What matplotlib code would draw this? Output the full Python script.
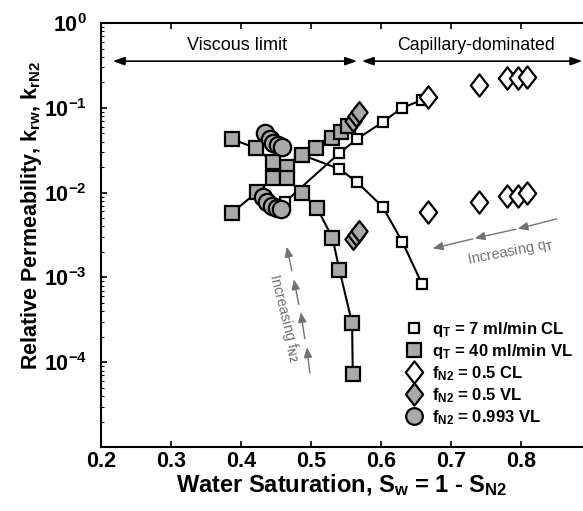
import numpy as np
import matplotlib
matplotlib.use('Agg')
import matplotlib.pyplot as plt
from matplotlib.path import Path
from matplotlib.lines import Line2D
from matplotlib.ticker import FuncFormatter, LogLocator, NullFormatter

plt.rcParams['font.family'] = 'Liberation Sans'
plt.rcParams['font.weight'] = 'bold'
plt.rcParams['mathtext.fontset'] = 'custom'
plt.rcParams['mathtext.rm'] = 'Liberation Sans:bold'
plt.rcParams['mathtext.it'] = 'Liberation Sans:bold'
plt.rcParams['mathtext.bf'] = 'Liberation Sans:bold'
plt.rcParams['mathtext.default'] = 'rm'

# q_T = 7 ml/min, capillary limit (white squares)
sw_cl_w = [0.463, 0.541, 0.566, 0.603, 0.630, 0.659]
kr_cl_w = [0.00774, 0.0293, 0.0429, 0.068, 0.0995, 0.1236]
sw_cl_n = [0.484, 0.541, 0.566, 0.603, 0.631, 0.659]
kr_cl_n = [0.0285, 0.019, 0.0133, 0.00676, 0.00261, 0.000836]

# q_T = 40 ml/min, viscous limit (gray squares)
sw_vl_a = [0.387, 0.423, 0.446, 0.466, 0.487, 0.507, 0.531, 0.543, 0.553]
kr_vl_a = [0.00574, 0.01016, 0.01486, 0.02004, 0.0277, 0.0336, 0.0441, 0.0518, 0.061]
sw_vl_b = [0.387, 0.421, 0.446, 0.466, 0.487, 0.509, 0.531, 0.541, 0.559, 0.560]
kr_vl_b = [0.0429, 0.0336, 0.0230, 0.01486, 0.00989, 0.00658, 0.00292, 0.00122, 0.00029, 7.26e-5]

# f_N2 = 0.5 CL (white diamonds)
sw_f05_cl = [0.667, 0.740, 0.780, 0.796, 0.809]
kr_f05_cl_n = [0.134, 0.186, 0.2246, 0.2246, 0.231]
kr_f05_cl_w = [0.0059, 0.00774, 0.00912, 0.00912, 0.00989]

# f_N2 = 0.5 VL (gray diamonds)
sw_f05_vl = [0.560, 0.564, 0.569]
kr_f05_vl_n = [0.0699, 0.080, 0.0892]
kr_f05_vl_w = [0.00284, 0.00316, 0.00352]

# f_N2 = 0.993 VL (gray circles)
sw_f993 = [0.434, 0.441, 0.446, 0.453, 0.459]
kr_f993_n = [0.0504, 0.0429, 0.0385, 0.0364, 0.0345]
sw_f993_w = [0.431, 0.438, 0.444, 0.451, 0.457]
kr_f993_w = [0.00887, 0.00774, 0.00695, 0.00658, 0.00641]

legend_labels = [r'q$_{T}$ = 7 ml/min CL', r'q$_{T}$ = 40 ml/min VL',
                 r'f$_{N2}$ = 0.5 CL', r'f$_{N2}$ = 0.5 VL', r'f$_{N2}$ = 0.993 VL']

GRAY = '#a9a9a9'
diamond = Path([(0, 1), (0.78, 0), (0, -1), (-0.78, 0), (0, 1)],
               [Path.MOVETO, Path.LINETO, Path.LINETO, Path.LINETO, Path.CLOSEPOLY])

fig = plt.figure(figsize=(5.83, 5.11), dpi=100)
ax = fig.add_axes([0.173, 0.125, 0.827, 0.830])

mew = 1.6
for x, y in [(sw_cl_w, kr_cl_w), (sw_cl_n, kr_cl_n)]:
    ax.plot(x, y, '-', color='k', lw=1.5, marker='s', ms=6.5, mfc='white', mec='k', mew=mew)
for x, y in [(sw_vl_a, kr_vl_a), (sw_vl_b, kr_vl_b)]:
    ax.plot(x, y, '-', color='k', lw=1.5, marker='s', ms=10, mfc=GRAY, mec='k', mew=mew)
for y in [kr_f05_cl_n, kr_f05_cl_w]:
    ax.plot(sw_f05_cl, y, ls='none', marker=diamond, ms=16, mfc='white', mec='k', mew=mew)
for y in [kr_f05_vl_n, kr_f05_vl_w]:
    ax.plot(sw_f05_vl, y, ls='none', marker=diamond, ms=15, mfc=GRAY, mec='k', mew=mew)
ax.plot(sw_f993, kr_f993_n, ls='none', marker='o', ms=12.5, mfc=GRAY, mec='k', mew=mew)
ax.plot(sw_f993_w, kr_f993_w, ls='none', marker='o', ms=12.5, mfc=GRAY, mec='k', mew=mew)

ax.set_yscale('log')
ax.set_xlim(0.2, 0.889)
ax.set_ylim(1e-5, 1)
ax.set_xticks([0.2, 0.3, 0.4, 0.5, 0.6, 0.7, 0.8])
ax.xaxis.set_major_formatter(FuncFormatter(lambda v, p: '%.1f' % v))
ax.yaxis.set_major_locator(LogLocator(base=10, numticks=10))
ax.yaxis.set_minor_locator(LogLocator(base=10, subs=np.arange(2, 10), numticks=20))
ax.yaxis.set_minor_formatter(NullFormatter())


def ylab(v, p):
    e = int(round(np.log10(v)))
    if e < -4:
        return ''
    return r'10$^{%d}$' % e


ax.yaxis.set_major_formatter(FuncFormatter(ylab))
ax.tick_params(axis='both', which='major', direction='in', labelsize=15.5, length=4, width=1.2)
ax.tick_params(axis='y', which='minor', direction='in', length=2.5, width=0.8)
ax.tick_params(axis='x', top=True, pad=3)
ax.tick_params(axis='y', pad=10)
ax.spines['right'].set_visible(False)
for s in ['left', 'bottom', 'top']:
    ax.spines[s].set_linewidth(1.5)

ax.set_xlabel(r'Water Saturation, S$_{w}$ = 1 - S$_{N2}$', fontsize=17, fontweight='bold', labelpad=0)
ax.set_ylabel(r'Relative Permeability, k$_{rw}$, k$_{rN2}$', fontsize=15.5, fontweight='bold')
ax.yaxis.set_label_coords(-0.118, 0.547)

# regime arrows
ax.annotate('', xy=(0.217, 0.355), xytext=(0.566, 0.355), annotation_clip=False,
            arrowprops=dict(arrowstyle='<|-|>,head_width=0.25,head_length=0.7', color='k', lw=1.2,
                            shrinkA=0, shrinkB=0))
ax.annotate('', xy=(0.573, 0.355), xytext=(0.888, 0.355), annotation_clip=False,
            arrowprops=dict(arrowstyle='<|-|>,head_width=0.25,head_length=0.7', color='k', lw=1.2,
                            shrinkA=0, shrinkB=0))
ax.text(0.395, 0.55, 'Viscous limit', ha='center', va='center', fontsize=13, fontweight='normal')
ax.text(0.736, 0.55, 'Capillary-dominated', ha='center', va='center', fontsize=12.8, fontweight='normal')

# increasing f_N2 arrows
fn2_arrows = [((0.4986, 7.5e-5), (0.4943, 1.5e-4)),
              ((0.4914, 1.9e-4), (0.4857, 3.9e-4)),
              ((0.4829, 4.8e-4), (0.4757, 9.5e-4)),
              ((0.4729, 1.2e-3), (0.4657, 2.3e-3))]
for tail, head in fn2_arrows:
    ax.annotate('', xy=head, xytext=tail,
                arrowprops=dict(arrowstyle='-|>,head_width=0.25,head_length=0.6', color='0.45', lw=1.0,
                                shrinkA=0, shrinkB=0))
ax.text(0.4625, 3.4e-4, r'Increasing f$_{N2}$', rotation=-76, ha='center', va='center',
        fontsize=10.5, fontweight='normal', color='0.45', rotation_mode='anchor')

# increasing q_T arrows
qt_arrows = [((0.8514, 4.9e-3), (0.7957, 3.75e-3)),
             ((0.7929, 3.7e-3), (0.7343, 2.9e-3)),
             ((0.7314, 2.85e-3), (0.6743, 2.2e-3))]
for tail, head in qt_arrows:
    ax.annotate('', xy=head, xytext=tail,
                arrowprops=dict(arrowstyle='-|>,head_width=0.25,head_length=0.6', color='0.45', lw=1.0,
                                shrinkA=0, shrinkB=0))
ax.text(0.786, 2.0e-3, r'Increasing q$_{T}$', rotation=11, ha='center', va='center',
        fontsize=10.5, fontweight='normal', color='0.45', rotation_mode='anchor')

handles = [Line2D([], [], ls='none', marker='s', ms=6.5, mfc='white', mec='k', mew=mew),
           Line2D([], [], ls='none', marker='s', ms=10, mfc=GRAY, mec='k', mew=mew),
           Line2D([], [], ls='none', marker=diamond, ms=16, mfc='white', mec='k', mew=mew),
           Line2D([], [], ls='none', marker=diamond, ms=16, mfc=GRAY, mec='k', mew=mew),
           Line2D([], [], ls='none', marker='o', ms=12, mfc=GRAY, mec='k', mew=mew)]
leg = ax.legend(handles, legend_labels, loc='lower left', bbox_to_anchor=(0.608, 0.02),
                frameon=False, fontsize=12, handlelength=1.0, handletextpad=0.6,
                labelspacing=0.2, borderpad=0.2)

fig.savefig('out.png', dpi=100)
